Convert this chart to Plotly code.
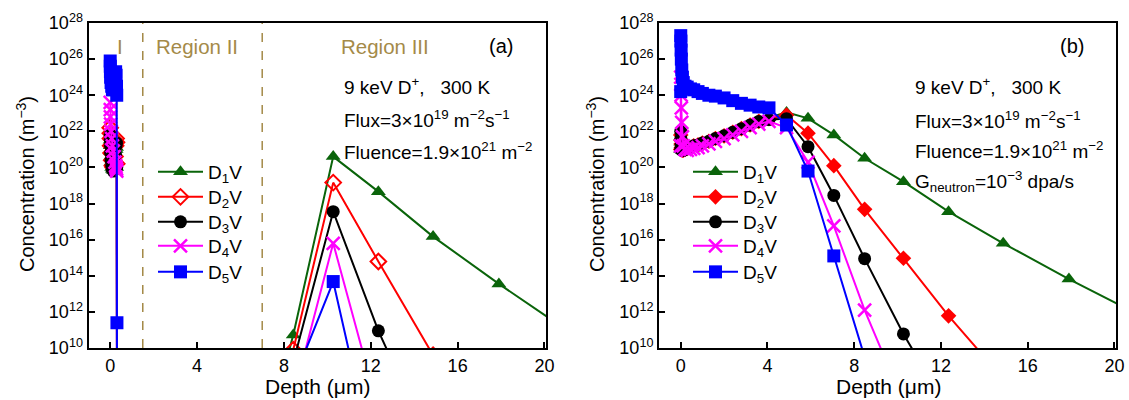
import plotly.graph_objects as go

# ---------------- data (log10 of concentration, m^-3) ----------------
# Panel (a): near-surface region I nodes and region III nodes (depth, um)
XA_SURF = [0, 0.005, 0.01, 0.02, 0.04, 0.07, 0.1, 0.14, 0.18, 0.22, 0.25, 0.27, 0.29, 0.30, 0.31, 0.32]
XA_DEEP = [7.06, 8.43, 10.27, 12.35, 14.87, 17.9, 21.5]

A_D1V_SURF = [21.5, 21.2, 20.9, 20.6, 20.3, 20.0, 19.9, 19.85, 20.0, 20.3, 20.7, 21.0, 21.1, 20.0, 5, 1]
A_D2V_SURF = [22.2, 21.9, 21.6, 21.2, 20.8, 20.4, 20.1, 20.0, 20.2, 20.6, 21.2, 21.6, 21.4, 20.2, 5, 1]
A_D3V_SURF = [21.8, 21.5, 21.2, 20.8, 20.4, 20.1, 19.9, 19.8, 19.9, 20.2, 20.7, 21.2, 21.35, 20.0, 5, 1]
A_D4V_SURF = [23.6, 23.2, 22.8, 22.4, 22.0, 21.6, 21.2, 20.9, 20.6, 20.3, 20.1, 20.0, 19.9, 19.8, 5, 1]
A_D5V_SURF = [25.9, 25.6, 25.3, 25.0, 24.7, 24.5, 24.3, 24.3, 24.6, 25.0, 25.3, 25.1, 24.5, 24.0, 11.4, 1]

A_D1V_DEEP = [4.6, 10.72, 20.6, 18.66, 16.17, 13.55, 10.6]
A_D2V_DEEP = [3.0, 9.9, 19.16, 14.79, 9.6, 4.0, 0]
A_D3V_DEEP = [3.0, 9.2, 17.55, 10.95, 4.3, 0, 0]
A_D4V_DEEP = [2.0, 7.3, 15.8, 6.6, 0, 0, 0]
A_D5V_DEEP = [2.0, 8.16, 13.68, 2.66, 0, 0, 0]

# Panel (b): nodes (depth, um)
XB = [0, 0.003, 0.01, 0.02, 0.03, 0.05, 0.08, 0.12, 0.2, 0.3, 0.45, 0.6, 0.8, 1.0, 1.3, 1.6,
      2.0, 2.4, 2.8, 3.2, 3.6, 4.07, 4.88, 5.87, 7.06, 8.48, 10.27, 12.35, 14.87, 17.9, 21.5]
B_D1V = [21.0, 21.7, 21.4, 21.2, 21.05, 21.0, 20.95, 20.95, 21.0, 21.05, 21.1, 21.2, 21.25, 21.35, 21.45, 21.6,
         21.75, 21.95, 22.15, 22.35, 22.55, 22.75, 23.05, 22.72, 21.8, 20.51, 19.21, 17.55, 15.8, 13.82, 11.6]
B_D2V = [21.0, 21.8, 21.5, 21.3, 21.1, 21.0, 20.95, 20.95, 21.0, 21.05, 21.1, 21.2, 21.25, 21.35, 21.45, 21.6,
         21.75, 21.95, 22.15, 22.35, 22.55, 22.7, 22.9, 21.9, 20.1, 17.68, 14.97, 11.78, 8.3, 3.0, 0]
B_D3V = [21.0, 22.0, 21.6, 21.3, 21.1, 21.0, 20.95, 20.95, 21.0, 21.05, 21.1, 21.2, 21.25, 21.35, 21.45, 21.6,
         21.75, 21.95, 22.15, 22.35, 22.55, 22.65, 22.7, 21.15, 18.45, 14.95, 10.78, 6.5, 0, 0, 0]
B_D4V = [21.2, 25.0, 24.6, 24.0, 23.3, 22.5, 21.7, 21.2, 21.0, 20.95, 21.0, 21.05, 21.1, 21.2, 21.3, 21.45,
         21.6, 21.8, 22.0, 22.2, 22.4, 22.55, 22.2, 20.3, 16.76, 12.1, 7.0, 0, 0, 0, 0]
B_D5V = [24.2, 27.3, 27.0, 26.5, 26.0, 25.4, 25.0, 24.7, 24.5, 24.45, 24.35, 24.3, 24.2, 24.1, 24.0, 23.95,
         23.85, 23.7, 23.55, 23.45, 23.35, 23.3, 22.35, 19.8, 15.1, 9.5, 3.0, 0, 0, 0, 0]

NAMES = ["D<sub>1</sub>V", "D<sub>2</sub>V", "D<sub>3</sub>V", "D<sub>4</sub>V", "D<sub>5</sub>V"]
Y_TICK_EXP = [10, 12, 14, 16, 18, 20, 22, 24, 26, 28]
X_TICKS = [0, 4, 8, 12, 16, 20]

# ---------------- styling ----------------
W, H = 1129, 400
FONT = "Liberation Sans, Arial, sans-serif"
GREEN, RED, BLACK, MAG, BLUE = "#0A640A", "#FF0000", "#000000", "#FF00FF", "#0000FF"
REGION_COL = "#A48A48"
LEG_ROWS_PX = [172, 197, 222, 246, 272]   # legend row centres (pixels from top)
LEG_X_PX = {"a": 153, "b": 688}


def pxx(x):
    return x / W


def pyy(y):
    return 1 - y / H


def marker_style(i, panel):
    if i == 0:
        return dict(symbol="triangle-up", size=13, color=GREEN)
    if i == 1:
        if panel == "a":
            return dict(symbol="diamond-open", size=12, color=RED, line=dict(width=2, color=RED))
        return dict(symbol="diamond", size=12, color=RED)
    if i == 2:
        return dict(symbol="circle", size=13, color=BLACK)
    if i == 3:
        return dict(symbol="x-thin-open", size=13, color=MAG, line=dict(width=2.5, color=MAG))
    return dict(symbol="square", size=13, color=BLUE)


COLORS = [GREEN, RED, BLACK, MAG, BLUE]

fig = go.Figure()
legends = {}


def legend_id(panel, i):
    n = (0 if panel == "a" else 5) + i + 1
    key = "legend" if n == 1 else "legend%d" % n
    legends[key] = dict(x=pxx(LEG_X_PX[panel]), y=pyy(LEG_ROWS_PX[i]), xanchor="left", yanchor="middle",
                        bgcolor="rgba(0,0,0,0)", font=dict(family=FONT, size=19),
                        itemwidth=45, tracegroupgap=0)
    return key


a_surf = [A_D1V_SURF, A_D2V_SURF, A_D3V_SURF, A_D4V_SURF, A_D5V_SURF]
a_deep = [A_D1V_DEEP, A_D2V_DEEP, A_D3V_DEEP, A_D4V_DEEP, A_D5V_DEEP]
for i in range(5):
    xs = XA_SURF + XA_DEEP
    ys = [10.0 ** v for v in a_surf[i] + a_deep[i]]
    fig.add_trace(go.Scatter(
        x=xs, y=ys, mode="lines+markers", name=NAMES[i],
        line=dict(color=COLORS[i], width=2), marker=marker_style(i, "a"),
        xaxis="x", yaxis="y", legend=legend_id("a", i)))

b_vals = [B_D1V, B_D2V, B_D3V, B_D4V, B_D5V]
for i in range(5):
    fig.add_trace(go.Scatter(
        x=XB, y=[10.0 ** v for v in b_vals[i]], mode="lines+markers", name=NAMES[i],
        line=dict(color=COLORS[i], width=2), marker=marker_style(i, "b"),
        xaxis="x2", yaxis="y2", legend=legend_id("b", i)))

axis_common = dict(showline=True, linewidth=2, linecolor="black", mirror=True,
                   ticks="inside", ticklen=6, tickwidth=1.5, tickcolor="black",
                   showgrid=False, zeroline=False, automargin=False,
                   tickfont=dict(family=FONT, size=18, color="black"))

xdef = dict(range=[-1, 20.07], tickvals=X_TICKS, ticktext=[str(t) for t in X_TICKS], **axis_common)
ydef = dict(type="log", range=[10, 28], tickvals=[10.0 ** e for e in Y_TICK_EXP],
            ticktext=["10<sup>%d</sup>" % e for e in Y_TICK_EXP], **axis_common)

XA_DOM = [pxx(88.5), pxx(546)]
XB_DOM = [pxx(659), pxx(1116)]
Y_DOM = [pyy(348), pyy(23)]

fig.update_layout(
    width=W, height=H,
    margin=dict(l=0, r=0, t=0, b=0),
    paper_bgcolor="white", plot_bgcolor="white",
    font=dict(family=FONT, size=18, color="black"),
    xaxis=dict(domain=XA_DOM, anchor="y", **xdef),
    yaxis=dict(domain=Y_DOM, anchor="x", **ydef),
    xaxis2=dict(domain=XB_DOM, anchor="y2", **xdef),
    yaxis2=dict(domain=Y_DOM, anchor="x2", **ydef),
    showlegend=True,
    **legends,
)

# region separators (panel a)
for xv in [1.5, 7.0]:
    fig.add_shape(type="line", xref="x", yref="y domain", x0=xv, x1=xv, y0=0, y1=1,
                  line=dict(color=REGION_COL, width=1.5, dash="dash"))

ann = []


def text(x, y, s, size=19, color="black", xanchor="center", angle=0):
    ann.append(dict(x=pxx(x), y=pyy(y), xref="paper", yref="paper", text=s, showarrow=False,
                    xanchor=xanchor, yanchor="middle", textangle=angle,
                    font=dict(family=FONT, size=size, color=color)))


HEAD = "9 keV D<sup>+</sup>,&nbsp;&nbsp;&nbsp;300 K"
FLUX = "Flux=3×10<sup>19</sup> m<sup>−2</sup>s<sup>−1</sup>"
FLUENCE = "Fluence=1.9×10<sup>21</sup> m<sup>−2</sup>"

# panel a
text(120, 47, "I", size=20.5, color=REGION_COL)
text(197, 47, "Region II", size=20.5, color=REGION_COL)
text(385, 47, "Region III", size=20.5, color=REGION_COL)
text(501, 46, "(a)", size=20)
text(342, 86, HEAD, xanchor="left")
text(342, 119, FLUX, xanchor="left")
text(342, 151, FLUENCE, xanchor="left")
# panel b
text(1072, 46, "(b)", size=20)
text(913, 86, HEAD, xanchor="left")
text(913, 120, FLUX, xanchor="left")
text(913, 150, FLUENCE, xanchor="left")
text(913, 181, "G<sub>neutron</sub>=10<sup>−3</sup> dpa/s", xanchor="left")
# axis titles
text(25, 184, "Concentration (m<sup>−3</sup>)", size=20, angle=-90)
text(595, 184, "Concentration (m<sup>−3</sup>)", size=20, angle=-90)
text(317, 386, "Depth (μm)", size=21)
text(888, 386, "Depth (μm)", size=21)

fig.update_layout(annotations=ann)

fig.write_html("out.html")
